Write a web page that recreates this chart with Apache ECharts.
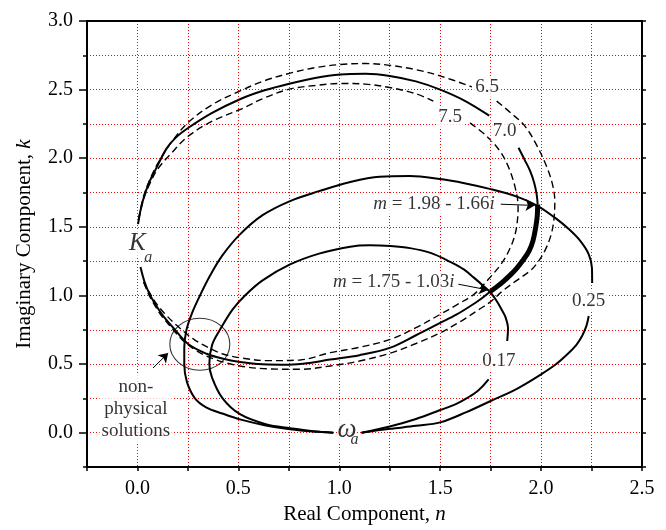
<!DOCTYPE html>
<html><head><meta charset="utf-8">
<script src="https://cdn.jsdelivr.net/npm/echarts@6/dist/echarts.min.js"></script>
<style>html,body{margin:0;padding:0;background:#fff}#c{width:666px;height:530px}</style>
</head><body><div id="c"></div>
<script>
// ---------- data ----------
const xTickLabels = [0.0, 0.5, 1.0, 1.5, 2.0, 2.5];
const yTickLabels = [0.0, 0.5, 1.0, 1.5, 2.0, 2.5, 3.0];

// K_a loop, solid (7.0)
const kSolidTop = [[0.003,1.52],[0.018,1.64],[0.036,1.736],[0.06,1.83],[0.094,1.93],[0.144,2.07],[0.19,2.15],[0.251,2.22],[0.37,2.33],[0.508,2.43],[0.63,2.495],[0.757,2.545],[0.88,2.585],[1.005,2.61],[1.13,2.615],[1.25,2.60],[1.38,2.56],[1.5,2.50],[1.62,2.42],[1.743,2.31]];
const kSolidRight = [[1.888,2.076],[1.918,1.99],[1.946,1.906],[1.966,1.82],[1.978,1.736],[1.983,1.663]];
const kThick = [[1.983,1.663],[1.981,1.58],[1.973,1.493],[1.96,1.40],[1.94,1.323],[1.912,1.26],[1.88,1.20],[1.848,1.15],[1.815,1.105],[1.783,1.066],[1.75,1.03]];
const kSolidBottom = [[1.75,1.03],[1.70,0.972],[1.65,0.923],[1.58,0.86],[1.5,0.80],[1.38,0.71],[1.253,0.62],[1.1,0.565],[0.955,0.533],[0.85,0.507],[0.75,0.495],[0.62,0.498],[0.508,0.515],[0.42,0.54],[0.343,0.575],[0.253,0.644],[0.177,0.765],[0.13,0.845],[0.094,0.923],[0.06,1.01],[0.035,1.1],[0.015,1.207]];

// K_a loop, dashed 6.5 (outer)
const k65Top = [[0.006,1.56],[0.03,1.72],[0.06,1.84],[0.1,1.96],[0.17,2.12],[0.251,2.26],[0.37,2.39],[0.508,2.49],[0.63,2.565],[0.757,2.62],[0.88,2.66],[1.005,2.683],[1.13,2.69],[1.25,2.677],[1.38,2.645],[1.5,2.6],[1.657,2.52]];
const k65Rest = [[1.78,2.416],[1.85,2.33],[1.92,2.234],[1.98,2.09],[2.03,1.93],[2.058,1.80],[2.068,1.687],[2.064,1.56],[2.05,1.445],[2.02,1.33],[1.98,1.235],[1.948,1.182],[1.88,1.11],[1.815,1.04],[1.75,0.955],[1.70,0.905],[1.6,0.81],[1.5,0.728],[1.38,0.65],[1.253,0.58],[1.1,0.522],[0.955,0.486],[0.806,0.462],[0.65,0.465],[0.508,0.486],[0.392,0.53],[0.3,0.59],[0.22,0.68],[0.16,0.78],[0.12,0.85],[0.085,0.93],[0.055,1.01],[0.03,1.1]];

// K_a loop, dashed 7.5 (inner)
const k75Top = [[0.006,1.55],[0.03,1.70],[0.06,1.81],[0.1,1.92],[0.17,2.04],[0.251,2.16],[0.37,2.27],[0.508,2.355],[0.63,2.44],[0.757,2.505],[0.88,2.53],[1.005,2.545],[1.13,2.54],[1.25,2.515],[1.38,2.47],[1.466,2.416]];
const k75Rest = [[1.648,2.258],[1.731,2.16],[1.797,2.05],[1.84,1.93],[1.872,1.784],[1.886,1.65],[1.884,1.566],[1.872,1.45],[1.845,1.34],[1.805,1.235],[1.74,1.12],[1.667,1.008],[1.58,0.93],[1.5,0.862],[1.38,0.765],[1.253,0.68],[1.1,0.622],[0.955,0.583],[0.806,0.53],[0.65,0.525],[0.508,0.546],[0.42,0.575],[0.359,0.615],[0.28,0.68],[0.2,0.775],[0.14,0.86],[0.094,0.94],[0.06,1.02],[0.03,1.1]];

// omega_a loops
const w25Start = [[1.11,0.0],[1.25,0.028],[1.38,0.05],[1.5,0.075],[1.63,0.15],[1.75,0.231],[1.88,0.32],[2.0,0.425],[2.075,0.5],[2.13,0.571],[2.175,0.64],[2.205,0.71],[2.225,0.78],[2.236,0.85]];
const w25Loop = [[2.253,1.09],[2.252,1.2],[2.236,1.3],[2.195,1.396],[2.14,1.48],[2.07,1.565],[1.98,1.655],[1.88,1.72],[1.75,1.775],[1.62,1.818],[1.5,1.848],[1.35,1.87],[1.2,1.865],[1.05,1.825],[0.9,1.76],[0.756,1.688],[0.62,1.585],[0.508,1.445],[0.42,1.29],[0.36,1.145],[0.31,1.0],[0.27,0.87],[0.243,0.75],[0.232,0.62],[0.232,0.5],[0.245,0.37],[0.285,0.25],[0.34,0.185],[0.42,0.14],[0.508,0.097],[0.63,0.055],[0.756,0.025],[0.87,0.008],[0.97,0.0]];
const w17Start = [[1.11,0.0],[1.25,0.045],[1.38,0.1],[1.5,0.165],[1.58,0.21],[1.63,0.25],[1.69,0.31],[1.74,0.389]];
const w17Loop = [[1.832,0.668],[1.836,0.76],[1.824,0.84],[1.807,0.89],[1.78,0.96],[1.75,1.02],[1.71,1.075],[1.667,1.13],[1.617,1.19],[1.55,1.245],[1.452,1.31],[1.35,1.345],[1.253,1.36],[1.15,1.365],[1.054,1.355],[0.9,1.305],[0.756,1.226],[0.62,1.11],[0.533,1.0],[0.47,0.895],[0.409,0.75],[0.37,0.64],[0.356,0.5],[0.37,0.4],[0.422,0.25],[0.508,0.135],[0.64,0.06],[0.756,0.033],[0.87,0.01],[0.97,0.0]];

// annotations
const curveLabelTexts = ['6.5', '7.5', '7.0', '0.25', '0.17'];
const curveLabelAt = [[1.733,2.518],[1.549,2.30],[1.819,2.201],[2.236,0.963],[1.791,0.519]];
const solutionTexts = ['1.98 - 1.66', '1.75 - 1.03'];
const solutionTextAt = [[1.47,1.664],[1.27,1.097]];
const arrowLines = [[[1.80,1.665],[1.968,1.656]], [[1.59,1.082],[1.738,1.04]], [[0.077,0.471],[0.152,0.58]]];
const nonPhysicalCircleAt = [0.309, 0.644];
const nonPhysicalText = ['non-', 'physical', 'solutions'];
const nonPhysicalTextAt = [-0.008, 0.173];
const kaLabelAt = [-0.001, 1.38];
const kaSubAt = [0.053, 1.276];
const waLabelAt = [1.039, 0.02];
const waSubAt = [1.076, -0.05];

// ---------- chart ----------
const FONT = 'Liberation Serif';
const chart = echarts.init(document.getElementById('c'), null, {renderer: 'canvas'});

function curve(data, extra) {
  return Object.assign({
    type: 'line', data: data, symbol: 'none', showSymbol: false, smooth: 0.35,
    lineStyle: {color: '#000', width: 2}, z: 3, silent: true, animation: false
  }, extra || {});
}
const dashedStyle = {color: '#000', width: 1.4, type: [7, 4]};

const labelItems = [];
function addLabel(pos, formatter, style) {
  labelItems.push({
    value: pos,
    label: Object.assign({
      show: true, position: 'inside', formatter: formatter,
      fontFamily: FONT, fontSize: 19, color: '#000',
      backgroundColor: '#fff', padding: [1, 2]
    }, style || {})
  });
}
curveLabelTexts.forEach((t, i) => addLabel(curveLabelAt[i], t));
solutionTexts.forEach((t, i) => addLabel(solutionTextAt[i], '{it|m}{n| = ' + t + '}{it|i}', {
  rich: {it: {fontFamily: FONT, fontSize: 19, fontStyle: 'italic'}, n: {fontFamily: FONT, fontSize: 19}}
}));
addLabel(nonPhysicalTextAt, nonPhysicalText.join('\n'), {lineHeight: 22, align: 'center'});
addLabel(kaLabelAt, 'K', {fontSize: 25, fontStyle: 'italic', padding: [0, 0]});
addLabel(kaSubAt, 'a', {fontSize: 16, fontStyle: 'italic', backgroundColor: 'transparent', padding: 0});
addLabel(waLabelAt, '\u03C9', {fontSize: 27, fontStyle: 'italic', padding: [0, 0]});
addLabel(waSubAt, 'a', {fontSize: 16, fontStyle: 'italic', backgroundColor: 'transparent', padding: 0});

function isMajor(list, v) { return list.some(t => Math.abs(t - v) < 1e-6); }
const tickLabelStyle = {fontFamily: FONT, fontSize: 20, color: '#000'};
const axisLineStyle = {onZero: false, lineStyle: {color: '#000', width: 2}};
const gridLineStyle = {show: true, lineStyle: {color: '#ff0000', width: 1, type: [1, 2]}};

const option = {
  animation: false,
  backgroundColor: '#fff',
  grid: {left: 87, right: 24, top: 21, bottom: 63, containLabel: false},
  xAxis: [
    {
      type: 'value', position: 'bottom', min: -0.25, max: 2.5, interval: 0.25,
      axisLine: axisLineStyle,
      axisTick: {show: true, inside: false, length: 4, lineStyle: {color: '#000', width: 1.5}},
      axisLabel: Object.assign({margin: 12, showMinLabel: true, showMaxLabel: true,
        formatter: v => isMajor(xTickLabels, v) ? v.toFixed(1) : ''}, tickLabelStyle),
      splitLine: {show: false},
      name: 'Real Component, {i|n}', nameLocation: 'middle', nameGap: 37,
      nameTextStyle: {fontFamily: FONT, fontSize: 21, color: '#000',
        rich: {i: {fontFamily: FONT, fontSize: 21, fontStyle: 'italic', color: '#000'}}}
    },
    {
      type: 'value', position: 'top', min: -0.25, max: 2.5, interval: 0.25,
      axisLine: axisLineStyle, axisTick: {show: false}, axisLabel: {show: false}, splitLine: gridLineStyle
    }
  ],
  yAxis: [
    {
      type: 'value', position: 'left', min: -0.25, max: 3.0, interval: 0.25,
      axisLine: axisLineStyle,
      axisTick: {show: true, inside: false, length: 4, lineStyle: {color: '#000', width: 1.5}},
      axisLabel: Object.assign({margin: 14, showMinLabel: true, showMaxLabel: true,
        formatter: v => isMajor(yTickLabels, v) ? v.toFixed(1) : ''}, tickLabelStyle),
      splitLine: {show: false},
      name: 'Imaginary Component, {i|k}', nameLocation: 'middle', nameGap: 52,
      nameTextStyle: {fontFamily: FONT, fontSize: 21, color: '#000',
        rich: {i: {fontFamily: FONT, fontSize: 21, fontStyle: 'italic', color: '#000'}}}
    },
    {
      type: 'value', position: 'left', min: -0.25, max: 3.0, interval: 0.25,
      axisLine: {show: false, onZero: false},
      axisTick: {show: true, inside: false, length: 8, customValues: yTickLabels, lineStyle: {color: '#000', width: 1.5}},
      axisLabel: {show: false}, splitLine: {show: false}
    },
    {
      type: 'value', position: 'right', min: -0.25, max: 3.0, interval: 0.25,
      axisLine: axisLineStyle,
      axisTick: {show: true, inside: false, length: 4, lineStyle: {color: '#000', width: 1.5}},
      axisLabel: {show: false}, splitLine: gridLineStyle
    }
  ],
  series: [
    curve(k65Top, {lineStyle: dashedStyle}),
    curve(k65Rest, {lineStyle: dashedStyle}),
    curve(k75Top, {lineStyle: dashedStyle}),
    curve(k75Rest, {lineStyle: dashedStyle}),
    curve(kSolidTop),
    curve(kSolidRight),
    curve(kSolidBottom),
    curve(kThick, {lineStyle: {color: '#000', width: 5}, z: 4}),
    curve(w25Start),
    curve(w25Loop),
    curve(w17Start),
    curve(w17Loop),
    {
      type: 'scatter', silent: true, z: 5, symbol: 'circle', symbolSize: [60, 52],
      itemStyle: {color: 'rgba(0,0,0,0)', borderColor: '#000', borderWidth: 1},
      data: [nonPhysicalCircleAt]
    },
    {
      type: 'lines', coordinateSystem: 'cartesian2d', silent: true, z: 6,
      symbol: ['none', 'arrow'], symbolSize: [6, 9],
      lineStyle: {color: '#000', width: 1, opacity: 1, curveness: 0},
      data: arrowLines.map(c => ({coords: c}))
    },
    {
      type: 'scatter', silent: true, z: 10, symbolSize: 1,
      itemStyle: {color: 'rgba(0,0,0,0)'},
      data: labelItems
    }
  ]
};
chart.setOption(option);
</script></body></html>
